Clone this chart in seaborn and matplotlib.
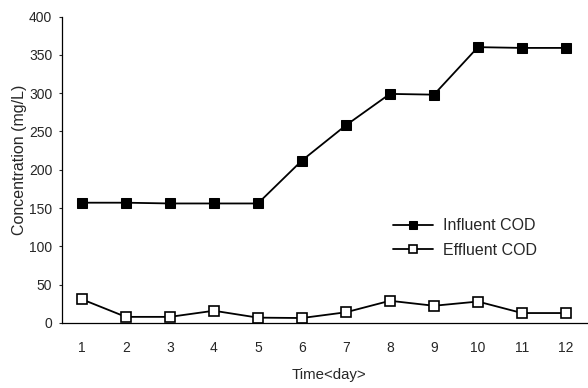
import matplotlib
matplotlib.use("Agg")
import matplotlib.pyplot as plt
import seaborn as sns
import pandas as pd
import numpy as np

days = [1, 2, 3, 4, 5, 6, 7, 8, 9, 10, 11, 12]
influent_cod = [157, 157, 156, 156, 156, 212, 258, 299, 298, 360, 359, 359]
effluent_cod = [31, 8, 8, 16, 7, 6.5, 14, 29, 22.5, 28, 13, 13]
y_ticks = [0, 50, 100, 150, 200, 250, 300, 350, 400]

sns.set_style("white")
plt.rcParams["font.family"] = ["Liberation Sans", "DejaVu Sans"]

fig = plt.figure(figsize=(5.88, 3.88), dpi=100)
ax = fig.add_axes([62 / 588, 1 - 323 / 388, 1 - 62 / 588, (323 - 16.5) / 388])

df = pd.DataFrame({"day": days, "Influent COD": influent_cod, "Effluent COD": effluent_cod})

sns.lineplot(data=df, x="day", y="Influent COD", ax=ax, color="black", linewidth=1.3,
             marker="s", markersize=6.5, markerfacecolor="black", markeredgecolor="black",
             label="Influent COD")
sns.lineplot(data=df, x="day", y="Effluent COD", ax=ax, color="black", linewidth=1.3,
             marker="s", markersize=6.5, markerfacecolor="white", markeredgecolor="black",
             markeredgewidth=1.2, label="Effluent COD")

ax.set_xlim(0.55, 12.5)
ax.set_ylim(0, 400)
ax.set_yticks(y_ticks)
ax.set_xticks(days)
ax.set_xticks(np.arange(1.5, 12, 1), minor=True)
ax.tick_params(axis="x", which="major", length=0, pad=13, labelsize=10)
ax.tick_params(axis="x", which="minor", length=3, direction="in", width=0.8, color="black")
ax.tick_params(axis="y", which="major", length=2, direction="out", width=0.8,
               pad=5, labelsize=10, left=True)

for side in ["top", "right"]:
    ax.spines[side].set_visible(False)
for side in ["left", "bottom"]:
    ax.spines[side].set_color("black")
    ax.spines[side].set_linewidth(0.9)

ax.set_xlabel("Time<day>", fontsize=10.8)
ax.set_ylabel("Concentration (mg/L)", fontsize=11.5)
ax.xaxis.set_label_coords(0.508, -0.147)
ax.yaxis.set_label_coords(-0.066, 0.532)

ax.legend(loc="center left", bbox_to_anchor=(0.629, 0.277), frameon=False, fontsize=11.5,
          borderpad=0, borderaxespad=0, handlelength=2.5, handletextpad=0.63,
          labelspacing=0.6, markerscale=0.85)

fig.savefig("out.png", dpi=100)
